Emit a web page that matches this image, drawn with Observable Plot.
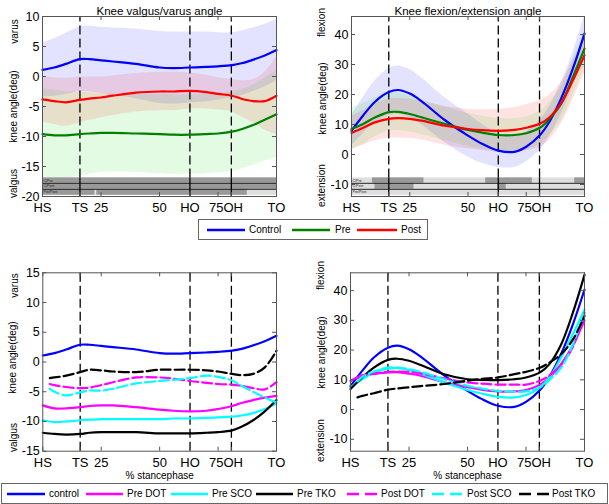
<!DOCTYPE html>
<html><head><meta charset="utf-8">
<script src="https://cdn.jsdelivr.net/npm/d3@7"></script>
<script src="https://cdn.jsdelivr.net/npm/@observablehq/plot@0.6"></script>
<style>
body{margin:0;background:#fff;font-family:"Liberation Sans",Arial,sans-serif;}
#root{position:relative;width:609px;height:504px;overflow:hidden;background:#fff;}
.panel{position:absolute;}
.legend{position:absolute;border:1px solid #666;background:#fff;box-sizing:border-box;}
.lab{position:absolute;font-size:10px;line-height:12px;white-space:nowrap;color:#000;}
.ln{position:absolute;}
</style></head><body><div id="root"></div>
<script>
// ---------- DATA ----------
const pct = [0,5,10,16,20,25,30,40,50,56,63,70,75,81,85,90,95,100];
const pctPost = [3,5,10,16,20,25,30,40,50,56,63,70,75,81,85,90,95,100];
const events = [16, 63, 80.7];
const xTicks = [0,16,25,50,63,75,80.7,100];
const xTickLabels = ["HS","TS","25","50","HO","75","OH","TO"];

// Knee valgus/varus angle (top-left): mean and SD
const vvControlMean = [1.1,1.5,2.1,2.9,2.9,2.7,2.5,2.1,1.5,1.4,1.5,1.6,1.7,1.9,2.2,2.8,3.5,4.4];
const vvControlSD   = [4.5,4.8,5.1,5.4,5.5,5.5,5.6,5.8,6.0,6.0,5.9,5.8,5.6,5.4,5.4,5.3,5.2,5.1];
const vvPreMean     = [-9.6,-9.8,-9.8,-9.6,-9.5,-9.4,-9.4,-9.5,-9.6,-9.7,-9.7,-9.6,-9.5,-9.2,-8.8,-8.1,-7.2,-6.3];
const vvPreSD       = [7.7,7.5,7.3,7.0,6.8,6.6,6.5,6.5,6.6,6.6,6.6,6.6,6.6,6.6,6.6,6.7,6.9,7.2];
const vvPostMean    = [-3.8,-4.1,-4.3,-3.9,-3.7,-3.5,-3.2,-2.7,-2.5,-2.5,-2.4,-2.6,-2.9,-3.2,-3.7,-4.1,-4.1,-3.2];
const vvPostSD      = [3.8,3.9,4.0,3.8,3.6,3.4,3.3,3.2,3.2,3.2,3.0,2.8,2.7,2.7,3.0,3.6,4.8,6.5];

// Knee flexion/extension angle (top-right): mean and SD
const feControlMean = [7.9,13.0,17.5,20.8,21.5,20.3,17.8,11.5,6.3,3.6,1.3,0.9,2.6,6.6,11.0,18.7,28.6,40.3];
const feControlSD   = [5.0,6.0,7.0,7.8,8.0,8.0,7.8,7.5,7.2,6.5,5.6,5.2,5.0,5.0,5.0,5.2,5.5,5.8];
const fePreMean     = [8.5,10.2,12.3,14.1,14.2,13.5,12.4,10.2,8.2,7.3,6.5,6.5,7.1,9.0,11.9,16.9,25.8,35.3];
const fePreSD       = [7.0,6.8,6.5,6.3,6.2,6.0,5.8,5.6,5.5,5.5,5.5,5.5,5.5,5.5,5.6,5.8,6.0,6.5];
const fePostMean    = [7.2,8.9,10.7,11.9,12.1,11.9,11.3,9.6,8.5,8.1,7.9,8.2,8.9,10.3,12.4,17.2,24.7,33.1];
const fePostSD      = [5.5,5.8,6.2,6.5,6.6,6.6,6.5,6.5,6.6,6.8,7.2,7.5,7.7,7.8,7.5,7.0,6.5,6.0];

// Subgroups, valgus/varus (bottom-left)
const vvPreDOT  = [-7.3,-7.8,-7.8,-7.6,-7.4,-7.3,-7.3,-7.6,-8.0,-8.2,-8.3,-8.2,-7.9,-7.4,-6.9,-6.4,-6.0,-5.7];
const vvPreSCO  = [-9.8,-10.1,-10.0,-9.8,-9.7,-9.6,-9.6,-9.6,-9.6,-9.5,-9.5,-9.4,-9.3,-9.2,-9.0,-8.6,-7.9,-7.0];
const vvPreTKO  = [-11.9,-12.1,-12.2,-12.1,-11.9,-11.8,-11.8,-11.8,-12.0,-12.0,-12.0,-11.9,-11.8,-11.5,-10.9,-9.8,-8.3,-6.4];
const vvPostDOT = [-3.7,-3.9,-4.2,-4.4,-4.3,-3.9,-3.4,-2.6,-2.6,-2.8,-3.2,-3.5,-3.7,-3.8,-4.0,-4.4,-4.6,-3.4];
const vvPostSCO = [-4.5,-5.0,-5.6,-5.1,-4.8,-4.8,-4.5,-3.6,-3.2,-3.0,-2.7,-2.3,-2.5,-3.1,-4.0,-5.0,-6.0,-6.8];
const vvPostTKO = [-2.7,-2.6,-2.3,-1.7,-1.3,-1.4,-1.6,-1.7,-1.3,-1.3,-1.3,-1.4,-1.6,-2.0,-2.2,-2.0,-0.9,1.9];

// Subgroups, flexion/extension (bottom-right)
const fePreDOT  = [9.6,11.5,12.0,12.5,12.6,12.1,11.4,9.2,7.5,6.7,6.1,6.1,6.6,8.4,10.8,15.3,21.5,30.0];
const fePreSCO  = [7.5,10.2,12.5,13.8,13.9,13.3,12.1,9.1,6.6,5.4,4.3,4.1,4.9,7.5,10.8,17.5,25.3,33.6];
const fePreTKO  = [6.9,10.8,14.1,16.7,17.1,16.4,15.0,11.9,10.2,10.0,9.9,10.2,10.8,12.5,15.3,21.9,32.5,45.3];
const fePostDOT = [10.5,11.4,12.1,12.7,12.8,12.7,12.2,10.5,9.1,8.7,8.4,8.4,8.4,9.7,11.5,15.0,21.0,32.5];
const fePostSCO = [9.5,11.0,12.8,14.1,14.1,13.6,12.7,10.2,8.0,7.1,6.3,6.0,6.1,7.5,10.0,14.1,21.9,33.1];
const fePostTKO = [4.1,4.6,5.5,6.7,7.1,7.5,7.9,8.6,9.7,10.3,10.8,11.9,12.7,14.1,15.8,18.6,23.5,31.5];

// Significance bars (% stance intervals), rows: C/Pre, C/Post, Pre/Post
const sigRowLabels = ["C/Pre","C/Post","Pre/Post"];
const vvSig = [[[0,100]], [[0,100]], [[0,22.4],[23.2,87.5]]];
const feSig = [[[9,31.1],[57.6,77.6],[95.8,100]], [[10.1,26.8],[62.8,66.4]], []];

// ---------- DRAWING ----------
const root = document.getElementById("root");
const fmtX = d => xTickLabels[xTicks.indexOf(d)];
const tightLeft = [75], tightRight = [80.7];

function makePanel(cfg) {
  const {W, H, mL, mR, mT, mB, yDomain, yTicks} = cfg;
  const [y0, y1] = yDomain;
  const pxY = (H - mT - mB) / (y1 - y0);
  const pxX = (W - mL - mR) / 100;
  const tick = 4;
  const marks = [];
  for (const b of cfg.bands || []) {
    const rows = pct.map((x, i) => ({x, lo: b.mean[i] - b.sd[i], hi: b.mean[i] + b.sd[i]}));
    marks.push(Plot.areaY(rows, {x: "x", y1: "lo", y2: "hi", fill: b.color, fillOpacity: 0.11, curve: "catmull-rom", clip: true}));
  }
  let dashBottom = y0;
  if (cfg.sig) {
    const rowsY = cfg.sigRows;
    marks.push(Plot.rect(rowsY, {x1: 0, x2: 100, y1: d => d[1], y2: d => d[0], fill: "#dedede"}));
    const dark = [];
    cfg.sig.forEach((ints, r) => ints.forEach(([a, c]) => dark.push({a, c, t: rowsY[r][0], b: rowsY[r][1]})));
    marks.push(Plot.rect(dark, {x1: "a", x2: "c", y1: "b", y2: "t", fill: "#999"}));
    marks.push(Plot.ruleY(rowsY.slice(1).map(r => r[0]), {x1: 0, x2: 100, stroke: "#222", strokeWidth: 1}));
    marks.push(Plot.text(sigRowLabels, {x: 0, dx: 1, textAnchor: "start", y: (d, i) => (rowsY[i][0] + rowsY[i][1]) / 2, text: d => d, fontSize: 3.6, fill: "#222"}));
    dashBottom = rowsY[0][0];
    marks.push(Plot.ruleX(events, {y1: y0, y2: dashBottom, stroke: "#000", strokeWidth: 1.3}));
  }
  marks.push(Plot.ruleX(events, {y1: dashBottom, y2: y1, stroke: "#000", strokeWidth: 1.3, strokeDasharray: "9,4"}));
  for (const b of cfg.bands || []) {
    const rows = pct.map((x, i) => ({x, y: b.mean[i]}));
    marks.push(Plot.line(rows, {x: "x", y: "y", stroke: b.line, strokeWidth: 2.2, curve: "catmull-rom"}));
  }
  for (const s of cfg.lines || []) {
    const xs = s.post ? pctPost : pct;
    const rows = xs.map((x, i) => ({x, y: s.values[i]}));
    const opts = {x: "x", y: "y", stroke: s.color, strokeWidth: 2.2, curve: "catmull-rom"};
    if (s.dash) opts.strokeDasharray = "10,4";
    marks.push(Plot.line(rows, opts));
  }
  marks.push(Plot.frame({stroke: "#555", strokeWidth: 1}));
  const dyT = tick / pxY, dxT = tick / pxX;
  marks.push(Plot.ruleX(xTicks, {y1: y0, y2: y0 + dyT, stroke: "#555"}));
  marks.push(Plot.ruleX(xTicks, {y1: y1 - dyT, y2: y1, stroke: "#555"}));
  marks.push(Plot.ruleY(yTicks, {x1: 0, x2: dxT, stroke: "#555"}));
  marks.push(Plot.ruleY(yTicks, {x1: 100 - dxT, x2: 100, stroke: "#555"}));
  const mainTicks = xTicks.filter(d => !tightLeft.includes(d) && !tightRight.includes(d));
  marks.push(Plot.axisX(mainTicks, {tickSize: 0, tickPadding: 6.3, fontSize: 13, label: null, tickFormat: fmtX}));
  marks.push(Plot.axisX(tightLeft, {tickSize: 0, tickPadding: 6.3, fontSize: 13, label: null, tickFormat: fmtX, dx: -1.8}));
  marks.push(Plot.axisX(tightRight, {tickSize: 0, tickPadding: 6.3, fontSize: 13, label: null, tickFormat: fmtX, dx: 1.8}));
  marks.push(Plot.axisY(yTicks, {tickSize: 0, tickPadding: 3, fontSize: 12.5, label: null, tickFormat: d => String(d)}));
  if (cfg.title) marks.push(Plot.text([cfg.title], {frameAnchor: "top", dy: cfg.titleDy, text: d => d, fontSize: 11.5}));
  for (const l of cfg.yLabels) {
    marks.push(Plot.text([l.t], {frameAnchor: "top-left", dx: l.dx, dy: l.dy, text: d => d, rotate: -90, fontSize: 10, textAnchor: "middle"}));
  }
  if (cfg.xLabel) marks.push(Plot.text([cfg.xLabel], {frameAnchor: "bottom", dy: cfg.xLabelDy, text: d => d, fontSize: 10}));
  const svg = Plot.plot({
    width: W, height: H, marginLeft: mL, marginRight: mR, marginTop: mT, marginBottom: mB,
    x: {domain: [0, 100], label: null},
    y: {domain: yDomain, label: null},
    style: {fontFamily: "'Liberation Sans', Arial, sans-serif", background: "transparent", overflow: "visible", color: "#000"},
    marks
  });
  svg.classList.add("panel");
  svg.style.left = cfg.left + "px";
  svg.style.top = cfg.top + "px";
  root.appendChild(svg);
}

// Top-left
makePanel({
  left: 0, top: 0, W: 300, H: 215, mL: 42, mR: 24, mT: 16, mB: 19,
  yDomain: [-20, 10], yTicks: [-20,-15,-10,-5,0,5,10],
  bands: [
    {mean: vvControlMean, sd: vvControlSD, color: "#0000ff", line: "#0000ff"},
    {mean: vvPreMean, sd: vvPreSD, color: "#00dd00", line: "#008000"},
    {mean: vvPostMean, sd: vvPostSD, color: "#ff0000", line: "#ff0000"}
  ],
  sig: vvSig, sigRows: [[-16.9,-17.8],[-17.8,-18.8],[-18.8,-19.8]],
  title: "Knee valgus/varus angle", titleDy: -10,
  yLabels: [{t: "varus", dx: -32, dy: 15}, {t: "knee angle(deg)", dx: -33, dy: 90}, {t: "valgus", dx: -33, dy: 167}]
});
// Top-right
makePanel({
  left: 300, top: 0, W: 309, H: 215, mL: 51, mR: 25, mT: 16, mB: 19,
  yDomain: [-14, 46], yTicks: [-10,0,10,20,30,40],
  bands: [
    {mean: feControlMean, sd: feControlSD, color: "#0000ff", line: "#0000ff"},
    {mean: fePreMean, sd: fePreSD, color: "#00dd00", line: "#008000"},
    {mean: fePostMean, sd: fePostSD, color: "#ff0000", line: "#ff0000"}
  ],
  sig: feSig, sigRows: [[-7.8,-9.6],[-9.6,-11.6],[-11.6,-13.6]],
  title: "Knee flexion/extension angle", titleDy: -10,
  yLabels: [{t: "flexion", dx: -34, dy: 6}, {t: "knee angle(deg)", dx: -33, dy: 82}, {t: "extension", dx: -34, dy: 169}]
});
// Bottom-left
makePanel({
  left: 0, top: 255, W: 300, H: 228, mL: 42.3, mR: 24, mT: 17.3, mB: 32.3,
  yDomain: [-15, 15], yTicks: [-15,-10,-5,0,5,10,15],
  lines: [
    {values: vvControlMean, color: "#0000ff"},
    {values: vvPreDOT, color: "#ff00ff"},
    {values: vvPreSCO, color: "#00ffff"},
    {values: vvPreTKO, color: "#000000"},
    {values: vvPostDOT, color: "#ff00ff", dash: true, post: true},
    {values: vvPostSCO, color: "#00ffff", dash: true, post: true},
    {values: vvPostTKO, color: "#000000", dash: true, post: true}
  ],
  yLabels: [{t: "varus", dx: -32, dy: 12.7}, {t: "knee angle(deg)", dx: -34, dy: 84.7}, {t: "valgus", dx: -33, dy: 164.7}],
  xLabel: "% stancephase", xLabelDy: 27.3
});
// Bottom-right
makePanel({
  left: 300, top: 255, W: 309, H: 228, mL: 50, mR: 25, mT: 17.3, mB: 32.3,
  yDomain: [-14, 46], yTicks: [-10,0,10,20,30,40],
  lines: [
    {values: feControlMean, color: "#0000ff"},
    {values: fePreDOT, color: "#ff00ff"},
    {values: fePreSCO, color: "#00ffff"},
    {values: fePreTKO, color: "#000000"},
    {values: fePostDOT, color: "#ff00ff", dash: true, post: true},
    {values: fePostSCO, color: "#00ffff", dash: true, post: true},
    {values: fePostTKO, color: "#000000", dash: true, post: true}
  ],
  yLabels: [{t: "flexion", dx: -33.3, dy: 2.7}, {t: "knee angle(deg)", dx: -32.7, dy: 79.7}, {t: "extension", dx: -33.3, dy: 167.7}],
  xLabel: "% stancephase", xLabelDy: 27.3
});

// Legends
function legend(box, items) {
  const div = document.createElement("div");
  div.className = "legend";
  Object.assign(div.style, {left: box.x + "px", top: box.y + "px", width: box.w + "px", height: box.h + "px"});
  root.appendChild(div);
  for (const it of items) {
    const s = d3.create("svg").attr("class", "ln").attr("width", it.x2 - it.x1).attr("height", 4)
      .style("left", (it.x1 - box.x - 1) + "px").style("top", (box.h / 2 - 3) + "px");
    s.append("line").attr("x1", 0).attr("x2", it.x2 - it.x1).attr("y1", 2).attr("y2", 2)
      .attr("stroke", it.color).attr("stroke-width", 2.5).attr("stroke-dasharray", it.dash ? "12,6" : null);
    div.appendChild(s.node());
    const t = document.createElement("div");
    t.className = "lab";
    t.textContent = it.label;
    Object.assign(t.style, {left: (it.tx - box.x - 1) + "px", top: (box.h / 2 - 7) + "px"});
    div.appendChild(t);
  }
}
legend({x: 198, y: 219, w: 230, h: 21}, [
  {label: "Control", color: "#0000ff", x1: 207, x2: 245, tx: 249},
  {label: "Pre", color: "#008000", x1: 292, x2: 330, tx: 335},
  {label: "Post", color: "#ff0000", x1: 357, x2: 397, tx: 401}
]);
legend({x: 1, y: 483, w: 607, h: 21}, [
  {label: "control", color: "#0000ff", x1: 7, x2: 45, tx: 49},
  {label: "Pre DOT", color: "#ff00ff", x1: 86, x2: 123, tx: 127},
  {label: "Pre SCO", color: "#00ffff", x1: 171, x2: 208, tx: 212},
  {label: "Pre TKO", color: "#000000", x1: 256, x2: 293, tx: 297},
  {label: "Post DOT", color: "#ff00ff", x1: 347, x2: 377, tx: 381, dash: true},
  {label: "Post SCO", color: "#00ffff", x1: 432, x2: 464, tx: 467, dash: true},
  {label: "Post TKO", color: "#000000", x1: 519, x2: 549, tx: 552, dash: true}
]);
</script></body></html>
